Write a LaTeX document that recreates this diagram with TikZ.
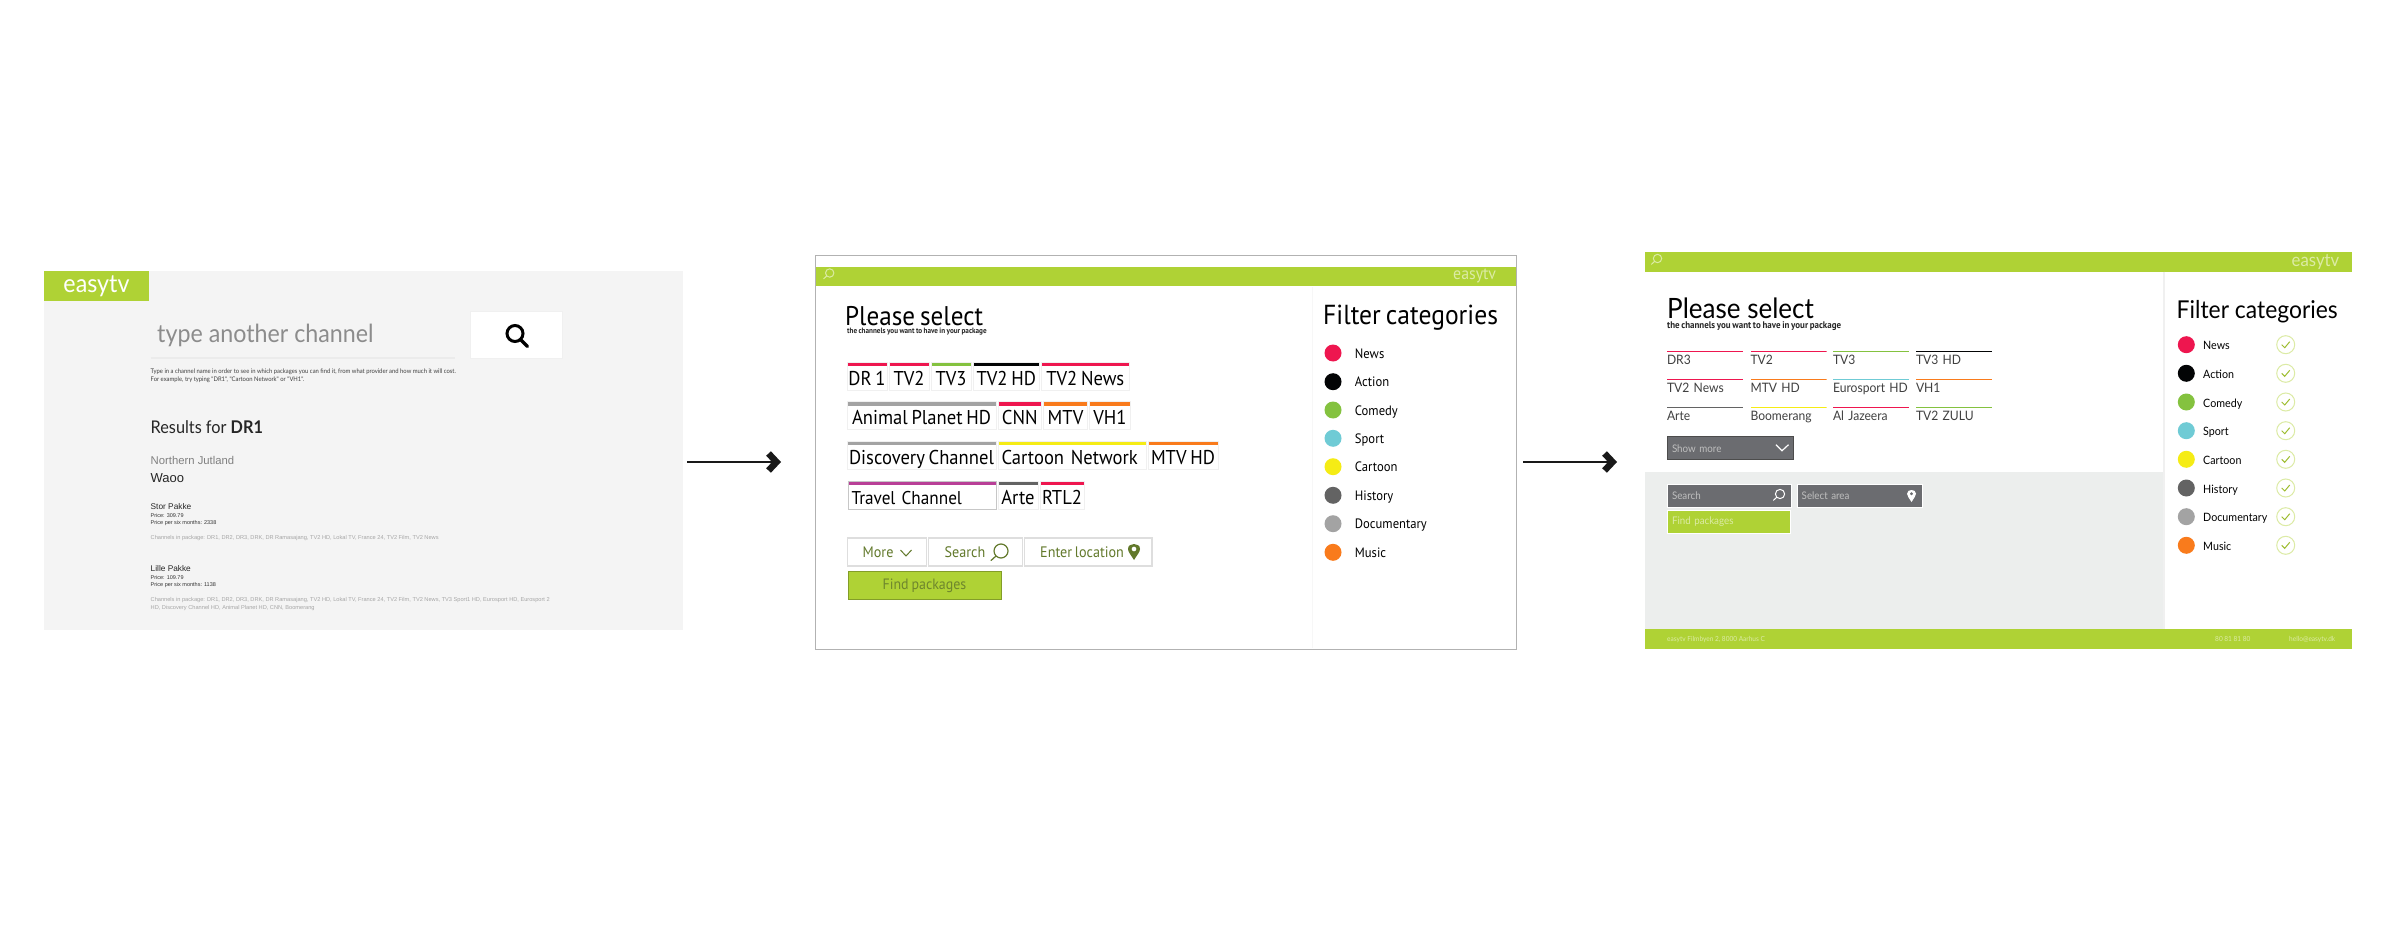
\documentclass[tikz,border=0pt]{standalone}
\usepackage{fontspec}
\setmainfont{Liberation Sans}
\newfontfamily\myriad[FakeStretch=0.93, WordSpace=0.75]{PT Sans}
\newfontfamily\proxima[FakeStretch=0.93]{Lato}
\newcommand{\fs}[1]{\fontsize{#1}{#1}\selectfont}
\usetikzlibrary{arrows.meta, positioning}
\definecolor{barGreen}{HTML}{AFD235}
\definecolor{paleGreen}{HTML}{DCEBA5}
\definecolor{oliveText}{HTML}{62792B}
\definecolor{panelGray}{HTML}{F4F4F4}
\definecolor{zoneGray}{HTML}{ECEEED}
\definecolor{btnGray}{HTML}{6B6C70}
\definecolor{catNews}{HTML}{EE164F}
\definecolor{catAction}{HTML}{030405}
\definecolor{catComedy}{HTML}{84C23F}
\definecolor{catSport}{HTML}{6FCBD5}
\definecolor{catCartoon}{HTML}{F5EC15}
\definecolor{catHistory}{HTML}{636363}
\definecolor{catDocu}{HTML}{A3A3A3}
\definecolor{catMusic}{HTML}{F97B1C}
\definecolor{catTravel}{HTML}{B83F97}
\tikzset{
  txt/.style={inner sep=0pt, anchor=base west},
  txtc/.style={inner sep=0pt, anchor=west},
  chip/.style 2 args={rectangle, draw=black!6, fill=white, line width=1pt, outer sep=0pt,
                inner xsep=0pt, inner ysep=3pt, text height=20pt, text depth=2pt,
                minimum width=#2pt, font=\myriad\fs{20},
                path picture={\fill[#1] (path picture bounding box.north west)
                  rectangle ([yshift=-4pt]path picture bounding box.north east);}},
  lineitem/.style={rectangle, inner sep=0pt, outer sep=0pt, text width=76pt, align=left,
                text height=14pt, text depth=3pt, font=\proxima\fs{13}, text=black!75,
                anchor=north west,
                path picture={\fill[#1] (path picture bounding box.north west)
                  rectangle ([yshift=-1.7pt]path picture bounding box.north east);}},
  whitebtn/.style={rectangle, draw=black!13, fill=white, line width=1.2pt, anchor=north west,
                minimum height=28pt, inner sep=0pt, outer sep=0pt},
  graybtn/.style={rectangle, draw=white, fill=btnGray, line width=1pt, anchor=north west,
                minimum height=23pt, inner sep=0pt, text=black!25, font=\proxima\fs{10.5}},
  greenbtn/.style={rectangle, draw=black!25!barGreen, fill=barGreen, line width=1pt,
                anchor=north west, inner sep=0pt},
  dot/.style={circle, fill=#1, minimum size=17pt, inner sep=0pt},
  catb/.style={inner sep=0pt, text height=11pt, text depth=1pt, anchor=west, font=\myriad\fs{13.6}},
  catc/.style={inner sep=0pt, text height=11pt, text depth=1pt, anchor=west, font=\proxima\fs{11.5}},
  tickmark/.style={circle, draw=paleGreen, line width=1pt, minimum size=18pt, inner sep=0pt,
                path picture={\draw[barGreen!90!black, line width=1pt]
                  ([shift={(-4pt,0pt)}]path picture bounding box.center)
                  -- ([shift={(-1pt,-3pt)}]path picture bounding box.center)
                  -- ([shift={(4pt,3pt)}]path picture bounding box.center);}},
  flowarrow/.style={-{Straight Barb[length=8pt, width=17pt, line width=6.5pt]},
                line width=2pt, draw=black!90},
  pics/magglass/.style={code={\draw[#1, line cap=round] (0,0) circle (7pt) (-5,5) -- (-10,9.5);}},
  pics/pinmark/.style={code={\fill[#1, even odd rule] (0,8) .. controls (-3,3) and (-6,0) .. (-6,-3)
                .. controls (-6,-6.5) and (-3,-8) .. (0,-8) .. controls (3,-8) and (6,-6.5) .. (6,-3)
                .. controls (6,0) and (3,3) .. (0,8) -- cycle (0,-3) circle (2.5pt);}},
}
\begin{document}
\begin{tikzpicture}[x=1pt, y=-1pt]
  \useasboundingbox (0,0) rectangle (2400,944);
  \coordinate (flowY) at (0,462);

  % first screen
  \node[fill=panelGray, minimum width=639pt, minimum height=359pt, anchor=north west, inner sep=0pt] (panelA) at (44,271) {};
  \node[fill=barGreen, minimum width=104.6pt, minimum height=30pt, anchor=north west, inner sep=0pt,
        text=white, font=\proxima\fs{25}] (logoA) at (44,271) {easytv};
  \node[txt, text=black!45, font=\proxima\fs{25}] (typeA) at (157,342) {type another channel};
  \draw[black!8, line width=1.2pt] (150.5,358) -- (455,358);
  \node[fill=white, draw=black!6, line width=1pt, minimum width=92pt, minimum height=47pt, anchor=north west, inner sep=0pt] (goA) at (470,311) {};
  \draw[black, line width=3pt] (515,333.5) circle (8pt);
  \draw[black, line width=3.4pt, line cap=round] (520.5,339.5) -- (527.5,346.5);
  \node[txtc, font=\proxima\fs{6.3}, text=black!75] (helpA) at (150.5,372) {Type in a channel name in order to see in which packages you can find it, from what provider and how much it will cost.};
  \node[txtc, font=\proxima\fs{6.3}, text=black!75] (hintA) at (150.5,380) {For example, try typing "DR1", "Cartoon Network" or "VH1".};
  \node[txt, font=\proxima\fs{17.5}, text=black!85] (resA) at (150.5,433) {Results for \textbf{DR1}};
  \node[txtc, font=\fs{11.3}, text=black!50] (regionA) at (150.5,460) {Northern Jutland};
  \node[txtc, font=\fs{13}, text=black!85] (provA) at (150.5,478) {Waoo};
  \node[txtc, font=\fs{8.3}, text=black!85] (storA) at (150.5,507) {Stor Pakke};
  \node[txtc, font=\fs{5.5}, text=black!80] (storB) at (150.5,516) {Price: 309.79};
  \node[txtc, font=\fs{5.5}, text=black!80] (storC) at (150.5,523) {Price per six months: 2338};
  \node[txtc, font=\fs{5.65}, text=black!35] (storD) at (150.5,538) {Channels in package: DR1, DR2, DR3, DRK, DR Ramasajang, TV2 HD, Lokal TV, France 24, TV2 Film, TV2 News};
  \node[txtc, font=\fs{8.3}, text=black!85] (lilleA) at (150.5,569) {Lille Pakke};
  \node[txtc, font=\fs{5.5}, text=black!80] (lilleB) at (150.5,578) {Price: 109.79};
  \node[txtc, font=\fs{5.5}, text=black!80] (lilleC) at (150.5,585) {Price per six months: 1138};
  \node[txtc, font=\fs{5.65}, text=black!35] (lilleD) at (150.5,600) {Channels in package: DR1, DR2, DR3, DRK, DR Ramasajang, TV2 HD, Lokal TV, France 24, TV2 Film, TV2 News, TV3 Sport1 HD, Eurosport HD, Eurosport 2};
  \node[txtc, font=\fs{5.65}, text=black!35] (lilleE) at (150.5,608) {HD, Discovery Channel HD, Animal Planet HD, CNN, Boomerang};

  % second screen
  \node[draw=black!30, fill=white, line width=1.3pt, minimum width=701pt, minimum height=394pt, anchor=north west, inner sep=0pt] (panelB) at (815,255) {};
  \fill[barGreen] (815.7,267) rectangle (1515.6,286);
  \draw[black!3, line width=1pt] (1312,287) -- (1312,648);
  \pic at (829.7,273) {magglass={paleGreen, line width=1pt, scale=.6}};
  \node[txtc, font=\myriad\fs{17}, text=paleGreen] (logoB) at (1453,276) {easytv};
  \node[txt, font=\myriad\fs{27}] (pleaseB) at (845,325) {Please select};
  \node[txtc, font=\myriad\bfseries\fs{7.7}, text=black!85] (subB) at (847,332) {the channels you want to have in your package};
  \node[txt, font=\myriad\fs{27.5}] (filterB) at (1323,324) {Filter categories};

  \node[chip={catNews}{40}, anchor=north west] (dr1B) at (847,362) {DR 1};
  \node[chip={catNews}{40}, right=2pt of dr1B] (tv2B) {TV2};
  \node[chip={catComedy}{40}, right=2pt of tv2B] (tv3B) {TV3};
  \node[chip={catAction}{66.5}, right=2pt of tv3B] (tv2hdB) {TV2 HD};
  \node[chip={catNews}{87.5}, right=2pt of tv2hdB] (tv2newsB) {TV2 News};

  \node[chip={catDocu}{149}, anchor=north west] (animalB) at (847,401.5) {Animal Planet HD};
  \node[chip={catNews}{43.5}, right=2pt of animalB] (cnnB) {CNN};
  \node[chip={catMusic}{44}, right=2pt of cnnB] (mtvB) {MTV};
  \node[chip={catMusic}{41}, right=2pt of mtvB] (vh1B) {VH1};

  \node[chip={catDocu}{149}, anchor=north west] (discB) at (847,441) {Discovery Channel};
  \node[chip={catCartoon}{148}, right=2pt of discB, text width=141pt, align=left, inner xsep=3.5pt] (cartoonB) {Cartoon Network};
  \node[chip={catMusic}{70}, right=2pt of cartoonB] (mtvhdB) {MTV HD};

  \node[chip={catTravel}{148}, anchor=north west, draw=black!22, text width=141pt, align=left, inner xsep=3.5pt, font=\myriad\fs{18.5}] (travelB) at (848,481) {Travel Channel};
  \node[chip={catHistory}{40}, right=2pt of travelB] (arteB) {Arte};
  \node[chip={catNews}{44}, right=2pt of arteB] (rtl2B) {RTL2};

  \node[whitebtn, minimum width=79pt] (moreB) at (847.5,538) {};
  \node[whitebtn, minimum width=94pt, right=2pt of moreB] (searchB) {};
  \node[whitebtn, minimum width=127.5pt, right=2pt of searchB] (locB) {};
  \node[txtc, text=oliveText, font=\myriad\fs{15.2}] (moreT) at (862.5,552.5) {More};
  \draw[oliveText, line width=1pt] (900.5,550) -- (906,556) -- (911.5,550);
  \node[txtc, text=oliveText, font=\myriad\fs{15.2}] (searchT) at (944.5,552.5) {Search};
  \pic at (1001,551) {magglass={oliveText, line width=1.2pt}};
  \node[txtc, text=oliveText, font=\myriad\fs{15.2}] (locT) at (1040,552.5) {Enter location};
  \pic at (1134,552) {pinmark=oliveText};
  \node[greenbtn, minimum width=153pt, minimum height=28pt, text=oliveText!85!barGreen, font=\myriad\fs{15}] (findB) at (847.5,571.3) {Find packages};

  \node[dot=catNews] (newsB) at (1333,353) {};
  \node[catb, right=13pt of newsB] (newsBt) {News};
  \node[dot=catAction] (actionB) at (1333,381.7) {};
  \node[catb, right=13pt of actionB] (actionBt) {Action};
  \node[dot=catComedy] (comedyB) at (1333,410) {};
  \node[catb, right=13pt of comedyB] (comedyBt) {Comedy};
  \node[dot=catSport] (sportB) at (1333,438.3) {};
  \node[catb, right=13pt of sportB] (sportBt) {Sport};
  \node[dot=catCartoon] (cartoonBd) at (1333,466.7) {};
  \node[catb, right=13pt of cartoonBd] (cartoonBt) {Cartoon};
  \node[dot=catHistory] (historyB) at (1333,495.3) {};
  \node[catb, right=13pt of historyB] (historyBt) {History};
  \node[dot=catDocu] (docuB) at (1333,523.7) {};
  \node[catb, right=13pt of docuB] (docuBt) {Documentary};
  \node[dot=catMusic] (musicB) at (1333,552.3) {};
  \node[catb, right=13pt of musicB] (musicBt) {Music};

  % third screen
  \node[fill=white, minimum width=706.7pt, minimum height=397pt, anchor=north west, inner sep=0pt] (panelC) at (1645,252) {};
  \fill[barGreen] (1645,252) rectangle (2351.7,271.7);
  \fill[zoneGray] (1645,472) rectangle (2163,629);
  \draw[black!6, line width=1.5pt] (2164,271.7) -- (2164,629);
  \fill[barGreen] (1645,629) rectangle (2351.7,649);
  \pic at (1657.5,258.5) {magglass={paleGreen, line width=1pt, scale=.6}};
  \node[txtc, font=\proxima\fs{18}, text=paleGreen] (logoC) at (2291.5,262) {easytv};
  \node[txt, font=\proxima\fs{28}] (pleaseC) at (1667,318.5) {Please select};
  \node[txtc, font=\myriad\bfseries\fs{9.6}, text=black!85] (subC) at (1667,326.5) {the channels you want to have in your package};
  \node[txt, font=\proxima\fs{24.6}] (filterC) at (2176.5,318) {Filter categories};

  \node[lineitem=catNews] (dr3C) at (1667,350.5) {DR3};
  \node[lineitem=catNews] (tv2C) at (1750.5,350.5) {TV2};
  \node[lineitem=catComedy] (tv3C) at (1833,350.5) {TV3};
  \node[lineitem=catAction] (tv3hdC) at (1916,350.5) {TV3 HD};
  \node[lineitem=catNews] (tv2newsC) at (1667,378.5) {TV2 News};
  \node[lineitem=catMusic] (mtvhdC) at (1750.5,378.5) {MTV HD};
  \node[lineitem=catSport] (eurosC) at (1833,378.5) {Eurosport HD};
  \node[lineitem=catMusic] (vh1C) at (1916,378.5) {VH1};
  \node[lineitem=catHistory] (arteC) at (1667,406.5) {Arte};
  \node[lineitem=catCartoon] (boomC) at (1750.5,406.5) {Boomerang};
  \node[lineitem=catNews] (jazC) at (1833,406.5) {Al Jazeera};
  \node[lineitem=catComedy] (zuluC) at (1916,406.5) {TV2 ZULU};

  \node[graybtn, draw=black!70, minimum width=125.5pt, text width=116.5pt, inner xsep=4.5pt, align=left] (moreC) at (1667,436.3) {Show more};
  \draw[white, line width=1.2pt] (1776,444.7) -- (1782,450.7) -- (1788.5,444.7);
  \node[graybtn, minimum width=123.5pt, text width=114.5pt, inner xsep=4.5pt, align=left] (searchC) at (1667,483.7) {Search};
  \pic at (1780,494) {magglass={white, line width=1pt, scale=.66}};
  \node[graybtn, minimum width=125.5pt, text width=116.5pt, inner xsep=4.5pt, align=left] (areaC) at (1796.7,483.7) {Select area};
  \pic at (1911.5,496) {pinmark={white, scale=.75}};
  \node[greenbtn, draw=white, minimum width=123pt, minimum height=22.5pt, text width=114pt, inner xsep=4.5pt, align=left, text=paleGreen, font=\proxima\fs{10.5}] (findC) at (1667,510) {Find packages};
  \node[txtc, font=\proxima\fs{7}, text=paleGreen] (addrC) at (1667,639.3) {easytv Filmbyen 2, 8000 Aarhus C};
  \node[txtc, font=\proxima\fs{7}, text=paleGreen] (phoneC) at (2215,639.3) {80 81 81 80};
  \node[txtc, font=\proxima\fs{7}, text=paleGreen] (mailC) at (2289,639.3) {hello@easytv.dk};

  \node[dot=catNews] (newsC) at (2186.3,344.7) {};
  \node[catc, right=8pt of newsC] (newsCt) {News};
  \node[tickmark] (newsCk) at (2285.7,344.7) {};
  \node[dot=catAction] (actionC) at (2186.3,373.3) {};
  \node[catc, right=8pt of actionC] (actionCt) {Action};
  \node[tickmark] (actionCk) at (2285.7,373.3) {};
  \node[dot=catComedy] (comedyC) at (2186.3,402) {};
  \node[catc, right=8pt of comedyC] (comedyCt) {Comedy};
  \node[tickmark] (comedyCk) at (2285.7,402) {};
  \node[dot=catSport] (sportC) at (2186.3,430.7) {};
  \node[catc, right=8pt of sportC] (sportCt) {Sport};
  \node[tickmark] (sportCk) at (2285.7,430.7) {};
  \node[dot=catCartoon] (cartoonC) at (2186.3,459.3) {};
  \node[catc, right=8pt of cartoonC] (cartoonCt) {Cartoon};
  \node[tickmark] (cartoonCk) at (2285.7,459.3) {};
  \node[dot=catHistory] (historyC) at (2186.3,488) {};
  \node[catc, right=8pt of historyC] (historyCt) {History};
  \node[tickmark] (historyCk) at (2285.7,488) {};
  \node[dot=catDocu] (docuC) at (2186.3,516.7) {};
  \node[catc, right=8pt of docuC] (docuCt) {Documentary};
  \node[tickmark] (docuCk) at (2285.7,516.7) {};
  \node[dot=catMusic] (musicC) at (2186.3,545.3) {};
  \node[catc, right=8pt of musicC] (musicCt) {Music};
  \node[tickmark] (musicCk) at (2285.7,545.3) {};

  \draw[flowarrow, shorten <=4pt, shorten >=34pt] (panelA.east |- flowY) -- (panelB.west |- flowY);
  \draw[flowarrow, shorten <=6pt, shorten >=28pt] (panelB.east |- flowY) -- (panelC.west |- flowY);

\end{tikzpicture}
\end{document}
